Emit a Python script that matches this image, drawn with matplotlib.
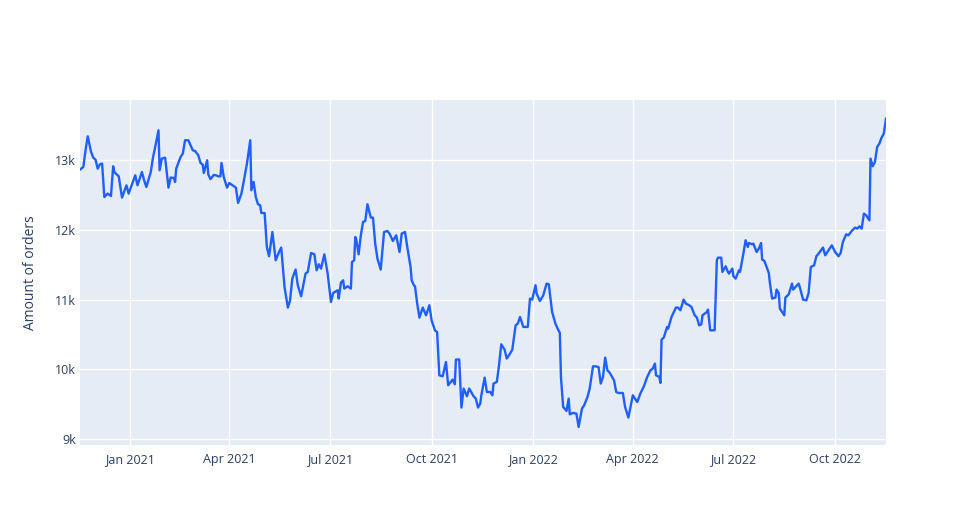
import pandas as pd
import numpy as np
import matplotlib
matplotlib.use("Agg")
import matplotlib.pyplot as plt
import matplotlib.dates as mdates
from matplotlib.ticker import FuncFormatter

# values
dates = [
    "2020-11-17", "2020-11-20", "2020-11-22", "2020-11-24", "2020-11-27", "2020-11-29",
    "2020-12-01", "2020-12-03", "2020-12-05", "2020-12-07", "2020-12-09", "2020-12-12",
    "2020-12-15", "2020-12-17", "2020-12-18", "2020-12-22", "2020-12-25", "2020-12-29",
    "2020-12-31", "2021-01-06", "2021-01-08", "2021-01-12", "2021-01-14", "2021-01-16",
    "2021-01-20", "2021-01-22", "2021-01-24", "2021-01-27", "2021-01-28", "2021-01-30",
    "2021-02-02", "2021-02-05", "2021-02-07", "2021-02-10", "2021-02-11", "2021-02-12",
    "2021-02-16", "2021-02-18", "2021-02-20", "2021-02-23", "2021-02-25", "2021-02-27",
    "2021-03-01", "2021-03-04", "2021-03-06", "2021-03-08", "2021-03-09", "2021-03-12",
    "2021-03-13", "2021-03-15", "2021-03-18", "2021-03-20", "2021-03-22", "2021-03-24",
    "2021-03-25", "2021-03-27", "2021-03-30", "2021-04-01", "2021-04-04", "2021-04-07",
    "2021-04-09", "2021-04-12", "2021-04-14", "2021-04-17", "2021-04-20", "2021-04-21",
    "2021-04-23", "2021-04-25", "2021-04-27", "2021-04-29", "2021-04-30", "2021-05-03",
    "2021-05-05", "2021-05-07", "2021-05-10", "2021-05-13", "2021-05-16", "2021-05-18",
    "2021-05-21", "2021-05-24", "2021-05-26", "2021-05-28", "2021-05-31", "2021-06-02",
    "2021-06-05", "2021-06-09", "2021-06-11", "2021-06-14", "2021-06-17", "2021-06-19",
    "2021-06-21", "2021-06-23", "2021-06-26", "2021-06-29", "2021-07-02", "2021-07-04",
    "2021-07-08", "2021-07-09", "2021-07-11", "2021-07-13", "2021-07-14", "2021-07-17",
    "2021-07-20", "2021-07-21", "2021-07-23", "2021-07-24", "2021-07-25", "2021-07-27",
    "2021-07-29", "2021-07-31", "2021-08-02", "2021-08-04", "2021-08-07", "2021-08-09",
    "2021-08-11", "2021-08-13", "2021-08-16", "2021-08-19", "2021-08-22", "2021-08-24",
    "2021-08-27", "2021-08-30", "2021-09-02", "2021-09-04", "2021-09-07", "2021-09-09",
    "2021-09-12", "2021-09-13", "2021-09-15", "2021-09-16", "2021-09-18", "2021-09-20",
    "2021-09-23", "2021-09-26", "2021-09-29", "2021-10-01", "2021-10-04", "2021-10-06",
    "2021-10-08", "2021-10-11", "2021-10-14", "2021-10-16", "2021-10-20", "2021-10-22",
    "2021-10-23", "2021-10-26", "2021-10-28", "2021-10-30", "2021-11-02", "2021-11-04",
    "2021-11-08", "2021-11-10", "2021-11-12", "2021-11-14", "2021-11-15", "2021-11-18",
    "2021-11-20", "2021-11-23", "2021-11-25", "2021-11-26", "2021-11-29", "2021-12-01",
    "2021-12-03", "2021-12-06", "2021-12-08", "2021-12-11", "2021-12-13", "2021-12-16",
    "2021-12-18", "2021-12-20", "2021-12-23", "2021-12-27", "2021-12-29", "2021-12-31",
    "2022-01-03", "2022-01-04", "2022-01-07", "2022-01-10", "2022-01-13", "2022-01-15",
    "2022-01-18", "2022-01-21", "2022-01-23", "2022-01-25", "2022-01-26", "2022-01-28",
    "2022-01-31", "2022-02-02", "2022-02-03", "2022-02-06", "2022-02-09", "2022-02-11",
    "2022-02-14", "2022-02-16", "2022-02-19", "2022-02-21", "2022-02-24", "2022-02-26",
    "2022-03-01", "2022-03-03", "2022-03-05", "2022-03-07", "2022-03-09", "2022-03-11",
    "2022-03-15", "2022-03-17", "2022-03-19", "2022-03-23", "2022-03-25", "2022-03-28",
    "2022-04-01", "2022-04-05", "2022-04-08", "2022-04-11", "2022-04-14", "2022-04-17",
    "2022-04-19", "2022-04-21", "2022-04-22", "2022-04-25", "2022-04-26", "2022-04-27",
    "2022-04-29", "2022-05-02", "2022-05-03", "2022-05-06", "2022-05-10", "2022-05-12",
    "2022-05-14", "2022-05-17", "2022-05-19", "2022-05-22", "2022-05-24", "2022-05-27",
    "2022-05-29", "2022-05-31", "2022-06-02", "2022-06-03", "2022-06-07", "2022-06-08",
    "2022-06-10", "2022-06-14", "2022-06-16", "2022-06-17", "2022-06-20", "2022-06-21",
    "2022-06-24", "2022-06-26", "2022-06-27", "2022-06-30", "2022-07-01", "2022-07-03",
    "2022-07-06", "2022-07-07", "2022-07-10", "2022-07-12", "2022-07-14", "2022-07-15",
    "2022-07-18", "2022-07-19", "2022-07-22", "2022-07-24", "2022-07-26", "2022-07-27",
    "2022-07-29", "2022-08-02", "2022-08-03", "2022-08-05", "2022-08-08", "2022-08-09",
    "2022-08-11", "2022-08-12", "2022-08-16", "2022-08-17", "2022-08-20", "2022-08-23",
    "2022-08-24", "2022-08-29", "2022-08-30", "2022-09-02", "2022-09-05", "2022-09-07",
    "2022-09-09", "2022-09-12", "2022-09-14", "2022-09-16", "2022-09-20", "2022-09-22",
    "2022-09-25", "2022-09-28", "2022-10-01", "2022-10-04", "2022-10-06", "2022-10-08",
    "2022-10-11", "2022-10-13", "2022-10-16", "2022-10-19", "2022-10-21", "2022-10-23",
    "2022-10-25", "2022-10-27", "2022-10-29", "2022-11-01", "2022-11-02", "2022-11-04",
    "2022-11-06", "2022-11-08", "2022-11-10", "2022-11-12", "2022-11-14", "2022-11-16",
]
orders = [
    12867, 12904, 13143, 13344, 13120, 13038,
    13010, 12880, 12943, 12952, 12473, 12522,
    12488, 12914, 12832, 12770, 12465, 12641,
    12522, 12785, 12641, 12832, 12713, 12617,
    12832, 13038, 13191, 13430, 12857, 13024,
    13038, 12608, 12752, 12746, 12689, 12880,
    13048, 13096, 13287, 13287, 13215, 13143,
    13134, 13072, 12962, 12938, 12818, 13000,
    12799, 12730, 12790, 12785, 12770, 12770,
    12962, 12761, 12608, 12674, 12641, 12608,
    12388, 12522, 12689, 12952, 13287, 12570,
    12689, 12473, 12369, 12354, 12244, 12244,
    11756, 11623, 11971, 11565, 11684, 11748,
    11182, 10887, 10991, 11302, 11432, 11207,
    11049, 11374, 11398, 11670, 11651, 11422,
    11508, 11446, 11651, 11374, 10967, 11096,
    11135, 11016, 11245, 11278, 11159, 11192,
    11159, 11541, 11565, 11900, 11852, 11651,
    11924, 12115, 12129, 12369, 12178, 12178,
    11805, 11590, 11432, 11971, 11986, 11948,
    11842, 11924, 11684, 11948, 11971, 11756,
    11469, 11278, 11207, 11192, 10944, 10743,
    10887, 10776, 10920, 10704, 10561, 10536,
    9915, 9901, 10106, 9772, 9853, 9786,
    10141, 10141, 9452, 9725, 9614, 9725,
    9614, 9581, 9452, 9509, 9628, 9882,
    9676, 9676, 9628, 9796, 9820, 10059,
    10360, 10284, 10155, 10227, 10284, 10632,
    10657, 10752, 10609, 10609, 11016, 11001,
    11207, 11088, 10981, 11063, 11231, 11221,
    10824, 10657, 10585, 10522, 9891, 9461,
    9404, 9581, 9356, 9375, 9365, 9174,
    9437, 9485, 9604, 9725, 10044, 10044,
    10034, 9796, 9891, 10169, 9987, 9955,
    9843, 9676, 9661, 9661, 9461, 9308,
    9628, 9532, 9661, 9757, 9891, 9987,
    10011, 10083, 9915, 9891, 9805, 10428,
    10456, 10609, 10585, 10752, 10887, 10887,
    10848, 11001, 10944, 10920, 10896, 10776,
    10743, 10632, 10647, 10776, 10824, 10858,
    10561, 10561, 11565, 11603, 11603, 11398,
    11479, 11398, 11374, 11446, 11336, 11302,
    11422, 11400, 11661, 11852, 11756, 11813,
    11795, 11805, 11684, 11733, 11813, 11575,
    11555, 11383, 11239, 11016, 11030, 11145,
    11096, 10872, 10776, 11030, 11077, 11231,
    11145, 11231, 11182, 11001, 10991, 11096,
    11469, 11493, 11623, 11661, 11748, 11637,
    11709, 11780, 11684, 11623, 11670, 11828,
    11938, 11924, 11986, 12034, 12020, 12053,
    12020, 12235, 12211, 12139, 13024, 12914,
    12976, 13191, 13239, 13325, 13383, 13598,
]
x_ticks = ["2021-01-01", "2021-04-01", "2021-07-01", "2021-10-01",
           "2022-01-01", "2022-04-01", "2022-07-01", "2022-10-01"]
y_ticks = [9000, 10000, 11000, 12000, 13000]

df = pd.DataFrame({"date": pd.to_datetime(dates), "orders": orders})

plt.rcParams["font.family"] = ["Open Sans", "DejaVu Sans"]
text_col = "#2a3f5f"

fig = plt.figure(figsize=(9.66, 5.25), dpi=100)
ax = fig.add_axes([80 / 966, 80 / 525, 806 / 966, 345 / 525])
ax.set_facecolor("#E5ECF6")

ax.plot(df["date"], df["orders"], color="#1f5eff", linewidth=1.7, solid_joinstyle="round")

ax.set_xlim(df["date"].min(), df["date"].max())
ax.set_ylim(8915, 13865)

ax.set_xticks(pd.to_datetime(x_ticks))
ax.xaxis.set_major_formatter(mdates.DateFormatter("%b %Y"))
ax.set_yticks(y_ticks)
ax.yaxis.set_major_formatter(FuncFormatter(lambda v, p: f"{int(v / 1000)}k"))

ax.grid(True, color="white", linewidth=1)
ax.set_axisbelow(True)
for s in ax.spines.values():
    s.set_visible(False)
ax.tick_params(length=0, labelsize=9, labelcolor=text_col, pad=6)
ax.tick_params(axis="y", pad=3)

ax.set_ylabel("Amount of orders", fontsize=10, color=text_col, labelpad=12)

fig.savefig("out.png", dpi=100)
